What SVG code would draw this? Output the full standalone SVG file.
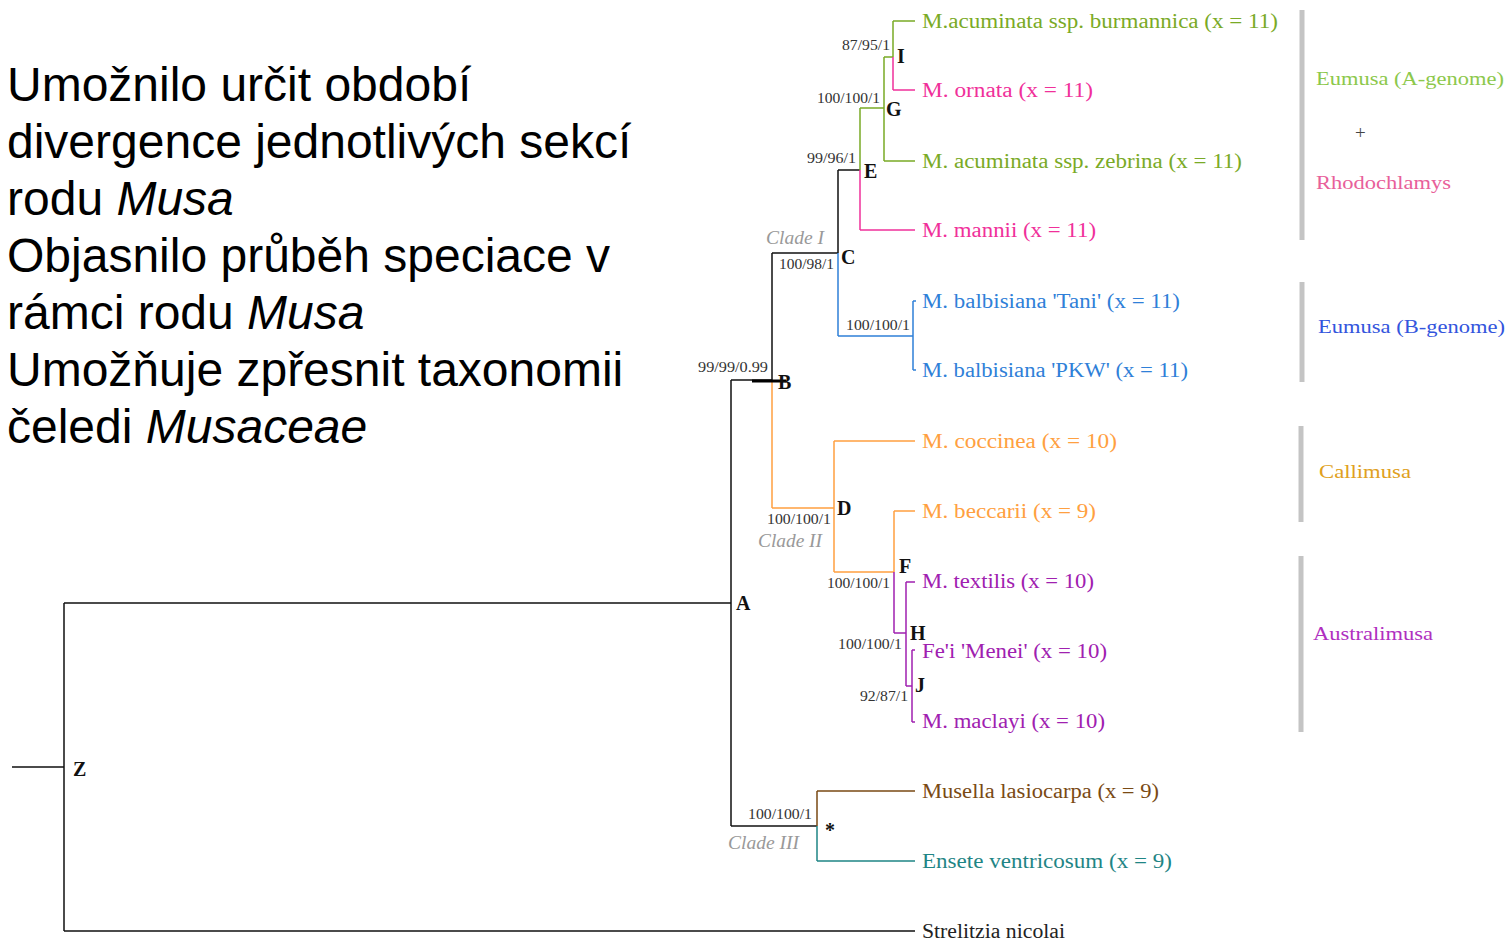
<svg xmlns="http://www.w3.org/2000/svg" width="1510" height="940" viewBox="0 0 1510 940">
<style>
.main{font-family:"Liberation Sans",Arial,sans-serif;font-size:48px;fill:#000}
.tip{font-family:"Liberation Serif","DejaVu Serif",serif;font-size:20px}
.sup{font-family:"Liberation Serif",serif;font-size:14px;fill:#333}
.node{font-family:"Liberation Serif",serif;font-size:20px;font-weight:bold;fill:#111}
.clade{font-family:"Liberation Serif",serif;font-size:18px;font-style:italic;fill:#999}
.sec{font-family:"Liberation Serif",serif;font-size:19px}
.br{fill:none;stroke-width:1.5}
.k{stroke:#111}.g{stroke:#7aaa26}.p{stroke:#f0309a}.b{stroke:#2f80d8}.o{stroke:#ffa040}.v{stroke:#a020b0}.n{stroke:#7a4a14}.t{stroke:#1f8585}
.bar{stroke:#c4c4c4;stroke-width:5}
</style>
<rect width="1510" height="940" fill="#fff"/>
<g id="text">
<text class="main" x="7" y="101">Umožnilo určit období</text>
<text class="main" x="7" y="158">divergence jednotlivých sekcí</text>
<text class="main" x="7" y="215">rodu <tspan font-style="italic">Musa</tspan></text>
<text class="main" x="7" y="272">Objasnilo průběh speciace v</text>
<text class="main" x="7" y="329">rámci rodu <tspan font-style="italic">Musa</tspan></text>
<text class="main" x="7" y="386">Umožňuje zpřesnit taxonomii</text>
<text class="main" x="7" y="443">čeledi <tspan font-style="italic">Musaceae</tspan></text>
</g>
<g id="connectors">
<path class="br k" d="M12 767H64M64 603V931M64 603H731M64 931H915"/>
<path class="br k" d="M731 380V826M731 380H772M772 380V253M772 253H838M838 253V170M838 170H860"/>
<path class="br g" d="M860 170V108M860 108H884M884 57V161M884 161H915M884 57H893M893 57V21M893 21H915"/>
<path class="br p" d="M860 170V230M860 230H915M893 57V90M893 90H915"/>
<path class="br b" d="M838 253V336M838 336H913M913 301V370M913 301H916M913 370H916"/>
<path class="br o" d="M772 381V508M772 508H834M834 441V572M834 441H915M834 572H894M894 572V511M894 511H915"/>
<path class="br v" d="M894 572V633M894 633H906M906 582V686M906 582H915M906 686H912M912 650V722M912 650H915M912 722H915"/>
<path class="br k" d="M731 826H817"/>
<path class="br n" d="M817 826V791M817 791H915"/>
<path class="br t" d="M817 826V861M817 861H915"/>
<line x1="752" y1="381" x2="786" y2="381" stroke="#000" stroke-width="3"/>
</g>
<g id="nodes">
<text class="node" x="897" y="63">I</text>
<text class="node" x="886" y="116">G</text>
<text class="node" x="864" y="178">E</text>
<text class="node" x="841" y="264">C</text>
<text class="node" x="778" y="389">B</text>
<text class="node" x="837" y="515">D</text>
<text class="node" x="899" y="573">F</text>
<text class="node" x="910" y="640">H</text>
<text class="node" x="915" y="692">J</text>
<text class="node" x="736" y="610">A</text>
<text class="node" x="73" y="776">Z</text>
<text class="node" x="825" y="837">*</text>
<text class="sup" x="842" y="50" textLength="48" lengthAdjust="spacingAndGlyphs">87/95/1</text>
<text class="sup" x="817" y="103" textLength="63" lengthAdjust="spacingAndGlyphs">100/100/1</text>
<text class="sup" x="807" y="163" textLength="49" lengthAdjust="spacingAndGlyphs">99/96/1</text>
<text class="sup" x="779" y="269" textLength="55" lengthAdjust="spacingAndGlyphs">100/98/1</text>
<text class="sup" x="846" y="330" textLength="64" lengthAdjust="spacingAndGlyphs">100/100/1</text>
<text class="sup" x="698" y="372" textLength="70" lengthAdjust="spacingAndGlyphs">99/99/0.99</text>
<text class="sup" x="767" y="524" textLength="64" lengthAdjust="spacingAndGlyphs">100/100/1</text>
<text class="sup" x="827" y="588" textLength="63" lengthAdjust="spacingAndGlyphs">100/100/1</text>
<text class="sup" x="838" y="649" textLength="64" lengthAdjust="spacingAndGlyphs">100/100/1</text>
<text class="sup" x="860" y="701" textLength="48" lengthAdjust="spacingAndGlyphs">92/87/1</text>
<text class="sup" x="748" y="819" textLength="64" lengthAdjust="spacingAndGlyphs">100/100/1</text>
<text class="clade" x="766" y="244" textLength="58" lengthAdjust="spacingAndGlyphs">Clade I</text>
<text class="clade" x="758" y="547" textLength="64" lengthAdjust="spacingAndGlyphs">Clade II</text>
<text class="clade" x="728" y="849" textLength="71" lengthAdjust="spacingAndGlyphs">Clade III</text>
</g>
<g id="tips">
<text class="tip" x="922" y="28" fill="#7aaa26" textLength="356" lengthAdjust="spacingAndGlyphs">M.acuminata ssp. burmannica (x = 11)</text>
<text class="tip" x="922" y="97" fill="#f0309a" textLength="171" lengthAdjust="spacingAndGlyphs">M. ornata (x = 11)</text>
<text class="tip" x="922" y="168" fill="#7aaa26" textLength="320" lengthAdjust="spacingAndGlyphs">M. acuminata ssp. zebrina (x = 11)</text>
<text class="tip" x="922" y="237" fill="#f0309a" textLength="174" lengthAdjust="spacingAndGlyphs">M. mannii (x = 11)</text>
<text class="tip" x="922" y="308" fill="#2f80d8" textLength="258" lengthAdjust="spacingAndGlyphs">M. balbisiana 'Tani' (x = 11)</text>
<text class="tip" x="922" y="377" fill="#2f80d8" textLength="266" lengthAdjust="spacingAndGlyphs">M. balbisiana 'PKW' (x = 11)</text>
<text class="tip" x="922" y="448" fill="#ffa040" textLength="195" lengthAdjust="spacingAndGlyphs">M. coccinea (x = 10)</text>
<text class="tip" x="922" y="518" fill="#ffa040" textLength="174" lengthAdjust="spacingAndGlyphs">M. beccarii (x = 9)</text>
<text class="tip" x="922" y="588" fill="#a020b0" textLength="172" lengthAdjust="spacingAndGlyphs">M. textilis (x = 10)</text>
<text class="tip" x="922" y="658" fill="#a020b0" textLength="185" lengthAdjust="spacingAndGlyphs">Fe'i 'Menei' (x = 10)</text>
<text class="tip" x="922" y="728" fill="#a020b0" textLength="183" lengthAdjust="spacingAndGlyphs">M. maclayi (x = 10)</text>
<text class="tip" x="922" y="798" fill="#7a4a14" textLength="237" lengthAdjust="spacingAndGlyphs">Musella lasiocarpa (x = 9)</text>
<text class="tip" x="922" y="868" fill="#1f8585" textLength="250" lengthAdjust="spacingAndGlyphs">Ensete ventricosum (x = 9)</text>
<text class="tip" x="922" y="938" fill="#222" textLength="143" lengthAdjust="spacingAndGlyphs">Strelitzia nicolai</text>
</g>
<g id="sections">
<line class="bar" x1="1302" y1="10" x2="1302" y2="240"/>
<line class="bar" x1="1302" y1="282" x2="1302" y2="382"/>
<line class="bar" x1="1301" y1="426" x2="1301" y2="522"/>
<line class="bar" x1="1301" y1="556" x2="1301" y2="732"/>
<text class="sec" x="1316" y="85" fill="#8cc84b" textLength="188" lengthAdjust="spacingAndGlyphs">Eumusa (A-genome)</text>
<text class="sec" x="1355" y="139" fill="#444" font-size="16">+</text>
<text class="sec" x="1316" y="189" fill="#e8609a" textLength="135" lengthAdjust="spacingAndGlyphs">Rhodochlamys</text>
<text class="sec" x="1318" y="333" fill="#3355dd" textLength="187" lengthAdjust="spacingAndGlyphs">Eumusa (B-genome)</text>
<text class="sec" x="1319" y="478" fill="#e0a020" textLength="92" lengthAdjust="spacingAndGlyphs">Callimusa</text>
<text class="sec" x="1313" y="640" fill="#b030c0" textLength="120" lengthAdjust="spacingAndGlyphs">Australimusa</text>
</g>
</svg>
